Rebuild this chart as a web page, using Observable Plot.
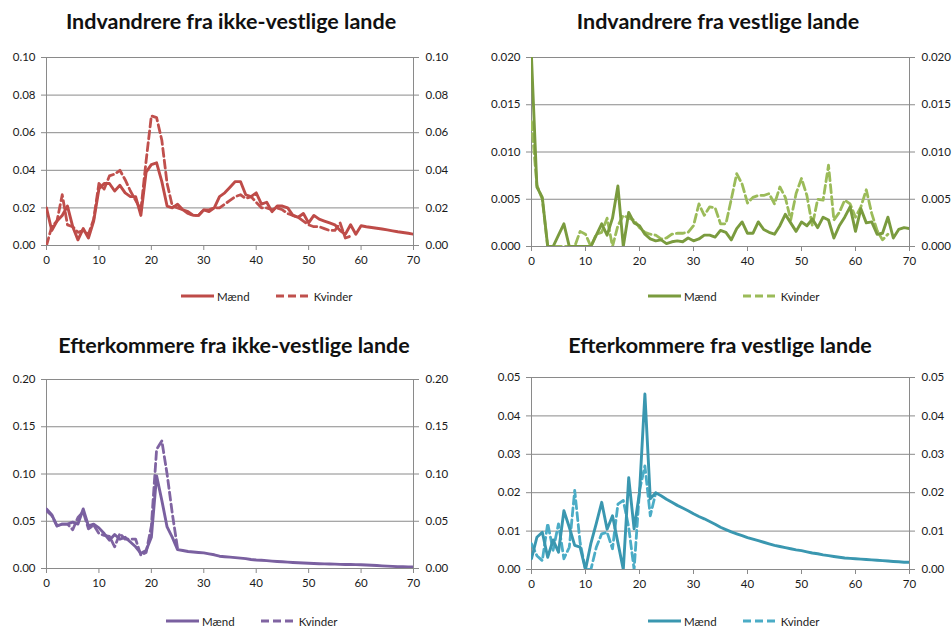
<!DOCTYPE html>
<html>
<head>
<meta charset="utf-8">
<script src="https://cdn.jsdelivr.net/npm/d3@7"></script>
<script src="https://cdn.jsdelivr.net/npm/@observablehq/plot@0.6"></script>
<style>
  html, body { margin: 0; padding: 0; background: #fff; }
  body { width: 952px; height: 626px; position: relative; overflow: hidden; font-family: Lato, "Open Sans", sans-serif; }
  .panel { position: absolute; }
  .title { position: absolute; font-weight: bold; font-size: 21.5px; color: #111; white-space: nowrap; transform: translateX(-50%); }
  .legend { position: absolute; font-size: 11.5px; color: #222; display: flex; align-items: center; white-space: nowrap; }
  .legend svg { display: block; }
  .legend .m { margin-left: 3px; margin-right: 26px; }
  .legend .k { margin-left: 6px; }
</style>
</head>
<body>
<script>
// ---------- data ----------
const ages = d3.range(0, 71);
const xTicks = [0, 10, 20, 30, 40, 50, 60, 70];
const series = ["Mænd", "Kvinder"];

const titles = [
  "Indvandrere fra ikke-vestlige lande",
  "Indvandrere fra vestlige lande",
  "Efterkommere fra ikke-vestlige lande",
  "Efterkommere fra vestlige lande"
];

const yTicks1 = [0, 0.02, 0.04, 0.06, 0.08, 0.10];
const yTicks2 = [0, 0.005, 0.010, 0.015, 0.020];
const yTicks3 = [0, 0.05, 0.10, 0.15, 0.20];
const yTicks4 = [0, 0.01, 0.02, 0.03, 0.04, 0.05];

// Indvandrere fra ikke-vestlige lande
const indIkkeVestM = [0.020,0.008,0.013,0.016,0.021,0.010,0.003,0.009,0.004,0.013,
  0.030,0.033,0.033,0.029,0.032,0.028,0.026,0.026,0.016,0.039,
  0.043,0.044,0.034,0.021,0.020,0.022,0.019,0.018,0.016,0.016,
  0.019,0.018,0.020,0.026,0.028,0.031,0.034,0.034,0.027,0.026,
  0.028,0.022,0.023,0.018,0.021,0.021,0.020,0.016,0.015,0.017,
  0.012,0.016,0.014,0.013,0.012,0.011,0.008,0.006,0.011,0.006,
  0.0105,0.0100,0.0096,0.0092,0.0088,0.0083,0.0078,0.0073,0.0069,0.0065,0.0060];
const indIkkeVestK = [0.000,0.010,0.013,0.027,0.011,0.010,0.007,0.008,0.006,0.014,
  0.033,0.030,0.037,0.038,0.040,0.035,0.029,0.024,0.019,0.045,
  0.069,0.068,0.056,0.033,0.021,0.020,0.019,0.017,0.016,0.016,
  0.019,0.019,0.020,0.020,0.022,0.024,0.026,0.027,0.025,0.026,
  0.023,0.020,0.020,0.019,0.020,0.019,0.017,0.016,0.015,0.013,
  0.011,0.010,0.010,0.009,0.008,0.008,0.012,0.004,0.005];

// Indvandrere fra vestlige lande
const indVestM = [0.0200,0.0063,0.0052,0,0,0.0012,0.0024,0,0,0,
  0,0,0.0012,0.0024,0.0012,0.0030,0.0064,0,0.0036,0.0025,
  0.0022,0.0013,0.0008,0.0006,0.0007,0.0003,0.0005,0.0006,0.0005,0.0009,
  0.0006,0.0008,0.0012,0.0012,0.0010,0.0017,0.0015,0.0007,0.0019,0.0026,
  0.0014,0.0014,0.0026,0.0018,0.0015,0.0013,0.0022,0.0034,0.0025,0.0016,
  0.0026,0.0022,0.0029,0.0020,0.0031,0.0028,0.0009,0.0022,0.0031,0.0042,
  0.0016,0.0040,0.0025,0.0026,0.0013,0.0014,0.0031,0.0009,0.0018,0.0020,0.0019];
const indVestK = [0.0132,0.0065,0.0050,0,0,0,0,0,0,0.0016,
  0.0013,0,0.0013,0.0015,0.0030,0,0.0022,0.0033,0.0030,0.0028,
  0.0020,0.0015,0.0013,0.0012,0.0008,0.0009,0.0013,0.0014,0.0014,0.0015,
  0.0022,0.0045,0.0033,0.0042,0.0041,0.0024,0.0024,0.0050,0.0077,0.0066,
  0.0046,0.0052,0.0054,0.0054,0.0056,0.0045,0.0063,0.0052,0.0028,0.0056,
  0.0072,0.0054,0.0022,0.0050,0.0049,0.0086,0.0028,0.0036,0.0049,0.0045,
  0.0031,0.0042,0.0060,0.0035,0.0017,0.0007,0.0013];

// Efterkommere fra ikke-vestlige lande
const eftIkkeVestM = [0.063,0.057,0.045,0.047,0.047,0.049,0.047,0.063,0.045,0.047,
  0.043,0.037,0.030,0.036,0.031,0.033,0.028,0.023,0.016,0.019,
  0.033,0.098,0.072,0.044,0.033,0.020,0.019,0.018,0.0175,0.017,
  0.0165,0.0155,0.0145,0.013,0.0125,0.012,0.0115,0.011,0.0105,0.0095,
  0.0090,0.0087,0.0083,0.0078,0.0074,0.0071,0.0068,0.0064,0.0061,0.0058,
  0.0056,0.0053,0.0051,0.0049,0.0047,0.0046,0.0044,0.0043,0.0042,0.0041,
  0.0040,0.0037,0.0034,0.0031,0.0028,0.0025,0.0022,0.0020,0.0018,0.0016,0.0015];
const eftIkkeVestK = [0.061,0.056,0.045,0.047,0.047,0.041,0.054,0.060,0.042,0.046,
  0.037,0.035,0.034,0.023,0.037,0.031,0.031,0.031,0.014,0.017,
  0.045,0.126,0.135,0.100,0.058,0.021];

// Efterkommere fra vestlige lande
const eftVestM = [0.0028,0.0084,0.0097,0.0032,0.0077,0.0045,0.0153,0.0110,0.0063,0.0058,
  0,0.0068,0.0120,0.0175,0.0105,0.0140,0.0070,0,0.0239,0.0106,
  0.0200,0.0457,0.0184,0.0200,0.0192,0.0183,0.0175,0.0167,0.0160,0.0153,
  0.0145,0.0138,0.0132,0.0125,0.0118,0.0110,0.0104,0.0098,0.0093,0.0088,
  0.0083,0.0079,0.0075,0.0071,0.0067,0.0063,0.0060,0.0057,0.0054,0.0051,
  0.0049,0.0046,0.0043,0.0041,0.0038,0.0036,0.0034,0.0032,0.0030,0.0029,
  0.0028,0.0027,0.0026,0.0025,0.0024,0.0023,0.0022,0.0021,0.0020,0.0019,0.0019];
const eftVestK = [0.0067,0.0036,0.0023,0.0120,0.0050,0.0119,0.0028,0.0058,0.0206,0.0070,
  0,0,0.0058,0.0093,0.0097,0.0054,0.0170,0.0180,0.0110,0,
  0.0206,0.0270,0.0140,0.0199];

// ---------- layout / styling ----------
const panels = [
  {title: titles[0], m: indIkkeVestM, k: indIkkeVestK, ticks: yTicks1, fmt: d3.format(".2f"),
   left: 0, top: 40, h: 240, mt: 17, mb: 35, ml: 46, mr: 63, cm: "#be4b48", ck: "#c0504d",
   titleX: 231, titleY: 8, legX: 181, legY: 289},
  {title: titles[1], m: indVestM, k: indVestK, ticks: yTicks2, fmt: d3.format(".3f"),
   left: 476, top: 40, h: 240, mt: 17, mb: 34, ml: 55, mr: 43, cm: "#7a9b3e", ck: "#9bbb59",
   titleX: 718, titleY: 8, legX: 648, legY: 289},
  {title: titles[2], m: eftIkkeVestM, k: eftIkkeVestK, ticks: yTicks3, fmt: d3.format(".2f"),
   left: 0, top: 360, h: 240, mt: 19, mb: 32, ml: 46, mr: 63, cm: "#7a60a0", ck: "#8064a2",
   titleX: 234, titleY: 332, legX: 166, legY: 614},
  {title: titles[3], m: eftVestM, k: eftVestK, ticks: yTicks4, fmt: d3.format(".2f"),
   left: 476, top: 360, h: 240, mt: 17, mb: 31, ml: 55, mr: 43, cm: "#3a97b0", ck: "#4bacc6",
   titleX: 720, titleY: 332, legX: 648, legY: 614}
];

const gridColor = "#8a8a8a";
const textColor = "#1a1a1a";

for (const p of panels) {
  const data = [];
  p.m.forEach((v, i) => data.push({age: ages[i], value: v, serie: series[0]}));
  p.k.forEach((v, i) => data.push({age: ages[i], value: v, serie: series[1]}));
  const ymax = p.ticks[p.ticks.length - 1];

  const chart = Plot.plot({
    width: 476,
    height: p.h,
    marginTop: p.mt, marginBottom: p.mb, marginLeft: p.ml, marginRight: p.mr,
    style: {fontFamily: "Lato, 'Open Sans', sans-serif", fontSize: "11px", overflow: "visible", background: "transparent"},
    x: {domain: [0, 70], ticks: xTicks},
    y: {domain: [0, ymax], ticks: p.ticks},
    marks: [
      Plot.gridY(p.ticks, {stroke: gridColor, strokeOpacity: 1, strokeWidth: 1}),
      Plot.ruleX([0, 70], {stroke: gridColor, strokeWidth: 1}),
      Plot.axisY(p.ticks, {anchor: "left", tickFormat: p.fmt, tickSize: 5, tickPadding: 6,
        stroke: gridColor, fill: textColor, label: null, fontSize: 11.5}),
      Plot.axisY(p.ticks, {anchor: "right", tickFormat: p.fmt, tickSize: 5, tickPadding: 7,
        stroke: gridColor, fill: textColor, label: null, fontSize: 11.5}),
      Plot.axisX(xTicks, {tickSize: 5, tickPadding: 5, stroke: gridColor, fill: textColor, label: null, fontSize: 11.5}),
      Plot.ruleY([0], {stroke: gridColor, strokeWidth: 1}),
      Plot.line(data.filter(d => d.serie === series[1]), {x: "age", y: "value", stroke: p.ck,
        strokeWidth: 2.8, strokeDasharray: "8,4", clip: true}),
      Plot.line(data.filter(d => d.serie === series[0]), {x: "age", y: "value", stroke: p.cm,
        strokeWidth: 2.9, clip: true})
    ]
  });

  const wrap = document.createElement("div");
  wrap.className = "panel";
  wrap.style.left = p.left + "px";
  wrap.style.top = p.top + "px";
  wrap.appendChild(chart);
  document.body.appendChild(wrap);

  const t = document.createElement("div");
  t.className = "title";
  t.style.left = p.titleX + "px";
  t.style.top = p.titleY + "px";
  t.textContent = p.title;
  document.body.appendChild(t);

  const leg = document.createElement("div");
  leg.className = "legend";
  leg.style.left = p.legX + "px";
  leg.style.top = p.legY + "px";
  leg.innerHTML =
    `<svg width="33" height="14"><line x1="0" x2="33" y1="7" y2="7" stroke="${p.cm}" stroke-width="2.9"/></svg><span class="m">${series[0]}</span>` +
    `<svg width="32" height="14"><line x1="0" x2="32" y1="7" y2="7" stroke="${p.ck}" stroke-width="2.8" stroke-dasharray="8,4"/></svg><span class="k">${series[1]}</span>`;
  document.body.appendChild(leg);
}
</script>
</body>
</html>
